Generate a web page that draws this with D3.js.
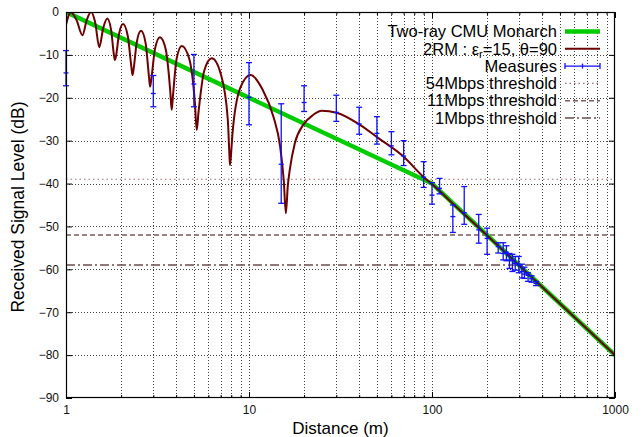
<!DOCTYPE html>
<html>
<head>
<meta charset="utf-8">
<script src="https://cdn.jsdelivr.net/npm/d3@7"></script>
<style>
  body { margin: 0; background: #fff; }
  svg { font-family: "Liberation Sans", Arial, sans-serif; }
</style>
</head>
<body>
<main></main>
<script>
// two-ray CMU Monarch model (straight in log scale)
const monarchDist = [1, 100, 1000];
const monarchDb = [0, -40, -80];

// 2RM curve, eps_r=15, theta=90
const rmDist = [1.00, 1.03, 1.06, 1.142, 1.23, 1.298, 1.37, 1.443, 1.52, 1.598, 1.68, 1.763, 1.829, 1.85, 1.874, 1.948,
  2.05, 2.176, 2.278, 2.31, 2.34, 2.437, 2.57, 2.721, 2.841, 2.88, 2.923, 3.064, 3.26, 3.511, 3.714, 3.78, 3.838, 4.027,
  4.29, 4.714, 5.064, 5.18, 5.30, 5.693, 6.26, 7.02, 7.657, 7.798, 7.87, 7.95, 8.122, 8.96, 10.2, 11.9, 13.6, 14.8,
  15.5, 15.9, 16.3, 16.7, 17.8, 19.8, 22.4, 24.9, 30.1, 40.4, 50.9, 69.8, 89.6, 101, 130, 200, 400, 1000];
const rmDb = [-3.0, -1.0, 0, -1.9, -5.4, -1.9, 0, -2.4, -8.2, -3.7, -1.5, -4.1, -10.1, -11.2, -10.4, -5.2,
  -2.8, -5.6, -12.9, -14.7, -13.4, -7.0, -4.4, -7.2, -15.1, -17.4, -15.8, -8.6, -5.9, -8.8, -18.5, -22.8, -19.7, -10.8,
  -7.9, -10.9, -21.3, -27.5, -23.3, -13.7, -10.8, -14.5, -25.0, -32.3, -35.7, -34.0, -28.4, -17.7, -14.7, -18.2, -24.4, -31.4,
  -39.5, -46.9, -40.5, -36.8, -30.6, -26.3, -24.0, -23.0, -23.5, -26.3, -29.4, -33.7, -38.4, -40.3, -44.7, -52.1, -64.1, -80];

// measures with error bars
const measDist = [1, 3, 5, 10, 15, 20, 30, 40, 50, 60, 70, 90, 100, 110, 130, 150, 180, 200,
  230, 245, 255, 265, 275, 285, 298, 310, 320, 335, 350, 370];
const measDb = [-14.2, -19.0, -16.8, -19.9, -35.5, -21.1, -23.4, -26.1, -28.3, -31.2, -33.6, -38.5, -42.7, -41.1, -47.7, -46.8, -50.8, -52.8,
  -54.7, -56.3, -56.0, -57.8, -58.0, -58.6, -59.0, -60.5, -61.1, -61.4, -62.2, -63.3];
const measHigh = [-9.0, -14.8, -9.9, -11.8, -21.4, -17.2, -19.4, -22.2, -24.4, -27.9, -30.0, -34.9, -39.8, -38.8, -45.0, -40.7, -47.2, -50.4,
  -53.8, -53.8, -54.5, -56.3, -56.5, -57.0, -57.0, -58.8, -59.5, -60.8, -61.5, -62.8];
const measLow = [-17.2, -22.1, -22.1, -26.3, -44.6, -23.2, -25.5, -28.5, -30.8, -33.3, -35.8, -40.9, -44.8, -42.4, -51.4, -49.5, -53.9, -56.5,
  -56.2, -57.8, -58.0, -59.8, -60.5, -60.2, -60.8, -62.0, -62.1, -62.8, -63.0, -63.8];

const thresholdNames = ["54Mbps threshold", "11Mbps threshold", "1Mbps threshold"];
const thresholdDb = [-39, -52, -59];

const xTicks = [1, 10, 100, 1000];
const yTicks = [-90, -80, -70, -60, -50, -40, -30, -20, -10, 0];

const w = 644, h = 437;
const pLeft = 66, pRight = 615, pTop = 12, pBottom = 398;

const svg = d3.select("main").append("svg")
  .attr("width", w)
  .attr("height", h);

const xScale = d3.scaleLog().domain([1, 1000]).range([pLeft, pRight]);
const yScale = d3.scaleLinear().domain([-90, 0]).range([pBottom, pTop]);

const minorX = [];
[1, 10, 100].forEach((dec) => {
  for (let k = 2; k <= 9; k++) minorX.push(dec * k);
});

svg.append("clipPath").attr("id", "plot")
  .append("rect")
  .attr("x", pLeft).attr("y", pTop)
  .attr("width", pRight - pLeft).attr("height", pBottom - pTop);

// grid
const grid = svg.append("g")
  .attr("stroke", "#222")
  .attr("stroke-width", 1)
  .attr("stroke-dasharray", "1,2")
  .attr("opacity", 0.85);

grid.selectAll("line.gx")
  .data(minorX.concat([10, 100]))
  .enter().append("line")
  .attr("x1", (d) => Math.round(xScale(d)) + 0.5)
  .attr("x2", (d) => Math.round(xScale(d)) + 0.5)
  .attr("y1", pTop)
  .attr("y2", pBottom);

grid.selectAll("line.gy")
  .data(yTicks.slice(1, -1))
  .enter().append("line")
  .attr("y1", (d) => Math.round(yScale(d)) + 0.5)
  .attr("y2", (d) => Math.round(yScale(d)) + 0.5)
  .attr("x1", pLeft)
  .attr("x2", pRight);

// thresholds
const thrColor = ["#a07070", "#7d5b5b", "#6e4e4e"];
const thrDash = ["1.5,3", "5,3", "9,3,2,3"];
const thrWidth = [1.2, 1.4, 1.5];

svg.selectAll("line.thr")
  .data(thresholdDb)
  .enter().append("line")
  .attr("x1", pLeft)
  .attr("x2", pRight)
  .attr("y1", (d) => yScale(d))
  .attr("y2", (d) => yScale(d))
  .attr("stroke", (d, i) => thrColor[i])
  .attr("stroke-width", (d, i) => thrWidth[i])
  .attr("stroke-dasharray", (d, i) => thrDash[i]);

// curves
const line = d3.line()
  .x((d) => xScale(d[0]))
  .y((d) => yScale(d[1]));

svg.append("path")
  .datum(monarchDist.map((d, i) => [d, monarchDb[i]]))
  .attr("clip-path", "url(#plot)")
  .attr("fill", "none")
  .attr("stroke", "#00cc00")
  .attr("stroke-width", 4.5)
  .attr("d", line);

svg.append("path")
  .datum(rmDist.map((d, i) => [d, rmDb[i]]))
  .attr("clip-path", "url(#plot)")
  .attr("fill", "none")
  .attr("stroke", "#6e0000")
  .attr("stroke-width", 2)
  .attr("stroke-linejoin", "round")
  .attr("d", line.curve(d3.curveMonotoneX));

// measures
const meas = svg.append("g")
  .attr("stroke", "#1010ff")
  .attr("stroke-width", 1.3)
  .selectAll("g")
  .data(measDist)
  .enter().append("g");

meas.append("line")
  .attr("x1", (d) => xScale(d)).attr("x2", (d) => xScale(d))
  .attr("y1", (d, i) => yScale(measHigh[i]))
  .attr("y2", (d, i) => yScale(measLow[i]));
meas.append("line")
  .attr("x1", (d) => xScale(d) - 3).attr("x2", (d) => xScale(d) + 3)
  .attr("y1", (d, i) => yScale(measHigh[i])).attr("y2", (d, i) => yScale(measHigh[i]));
meas.append("line")
  .attr("x1", (d) => xScale(d) - 3).attr("x2", (d) => xScale(d) + 3)
  .attr("y1", (d, i) => yScale(measLow[i])).attr("y2", (d, i) => yScale(measLow[i]));
meas.append("line")
  .attr("x1", (d) => xScale(d) - 2.5).attr("x2", (d) => xScale(d) + 2.5)
  .attr("y1", (d, i) => yScale(measDb[i])).attr("y2", (d, i) => yScale(measDb[i]));

// axes, ticks inward like gnuplot
svg.append("g")
  .attr("transform", `translate(0,${pBottom})`)
  .call(d3.axisBottom(xScale).tickValues(xTicks).tickFormat(d3.format("d")).tickSize(-6).tickPadding(7))
  .call((g) => g.select(".domain").remove());
svg.append("g")
  .attr("transform", `translate(0,${pBottom})`)
  .call(d3.axisBottom(xScale).tickValues(minorX).tickFormat("").tickSize(-3))
  .call((g) => g.select(".domain").remove());
svg.append("g")
  .attr("transform", `translate(0,${pTop})`)
  .call(d3.axisTop(xScale).tickValues(xTicks).tickFormat("").tickSize(-6))
  .call((g) => g.select(".domain").remove());
svg.append("g")
  .attr("transform", `translate(0,${pTop})`)
  .call(d3.axisTop(xScale).tickValues(minorX).tickFormat("").tickSize(-3))
  .call((g) => g.select(".domain").remove());
svg.append("g")
  .attr("transform", `translate(${pLeft},0)`)
  .call(d3.axisLeft(yScale).tickValues(yTicks).tickSize(-6).tickPadding(7))
  .call((g) => g.select(".domain").remove());
svg.append("g")
  .attr("transform", `translate(${pRight},0)`)
  .call(d3.axisRight(yScale).tickValues(yTicks).tickFormat("").tickSize(-6))
  .call((g) => g.select(".domain").remove());

svg.selectAll(".tick text")
  .attr("font-size", 12)
  .attr("font-family", "Liberation Sans, Arial, sans-serif")
  .attr("fill", "#111");

svg.append("rect")
  .attr("x", pLeft + 0.5).attr("y", pTop + 0.5)
  .attr("width", pRight - pLeft - 1).attr("height", pBottom - pTop - 1)
  .attr("fill", "none")
  .attr("stroke", "#000")
  .attr("stroke-width", 1.2);

// axis titles
svg.append("text")
  .attr("x", (pLeft + pRight) / 2)
  .attr("y", 434)
  .attr("text-anchor", "middle")
  .attr("font-size", 17)
  .text("Distance (m)");
svg.append("text")
  .attr("transform", `translate(24,${(pTop + pBottom) / 2 + 2}) rotate(-90)`)
  .attr("text-anchor", "middle")
  .attr("font-size", 17.5)
  .text("Received Signal Level (dB)");

// legend
const legX = 557, sx1 = 565, sx2 = 600;
const rowY = (i) => 31.5 + i * 17.3;
const leg = svg.append("g").attr("font-size", 16.5).attr("text-anchor", "end");

leg.append("text").attr("x", legX).attr("y", rowY(0)).attr("dy", "0.35em").text("Two-ray CMU Monarch");
leg.append("line").attr("x1", sx1).attr("x2", sx2).attr("y1", rowY(0)).attr("y2", rowY(0))
  .attr("stroke", "#00cc00").attr("stroke-width", 4.5);

const t2 = leg.append("text").attr("x", legX).attr("y", rowY(1)).attr("dy", "0.35em");
t2.append("tspan").text("2RM : ε");
t2.append("tspan").attr("font-size", 11).attr("dy", "0.3em").text("r");
t2.append("tspan").attr("dy", "-0.2em").text("=15, θ=90");
leg.append("line").attr("x1", sx1).attr("x2", sx2).attr("y1", rowY(1)).attr("y2", rowY(1))
  .attr("stroke", "#6e0000").attr("stroke-width", 2);

leg.append("text").attr("x", legX).attr("y", rowY(2)).attr("dy", "0.35em").text("Measures");
const lm = leg.append("g").attr("stroke", "#1010ff").attr("stroke-width", 1.3);
lm.append("line").attr("x1", sx1).attr("x2", sx2).attr("y1", rowY(2)).attr("y2", rowY(2));
lm.append("line").attr("x1", sx1).attr("x2", sx1).attr("y1", rowY(2) - 3).attr("y2", rowY(2) + 3);
lm.append("line").attr("x1", sx2).attr("x2", sx2).attr("y1", rowY(2) - 3).attr("y2", rowY(2) + 3);
lm.append("line").attr("x1", (sx1 + sx2) / 2).attr("x2", (sx1 + sx2) / 2).attr("y1", rowY(2) - 2.5).attr("y2", rowY(2) + 2.5);

thresholdNames.forEach((name, i) => {
  leg.append("text").attr("x", legX).attr("y", rowY(3 + i)).attr("dy", "0.35em").text(name);
  leg.append("line").attr("x1", sx1).attr("x2", sx2).attr("y1", rowY(3 + i)).attr("y2", rowY(3 + i))
    .attr("stroke", thrColor[i]).attr("stroke-width", thrWidth[i]).attr("stroke-dasharray", thrDash[i]);
});
</script>
</body>
</html>
